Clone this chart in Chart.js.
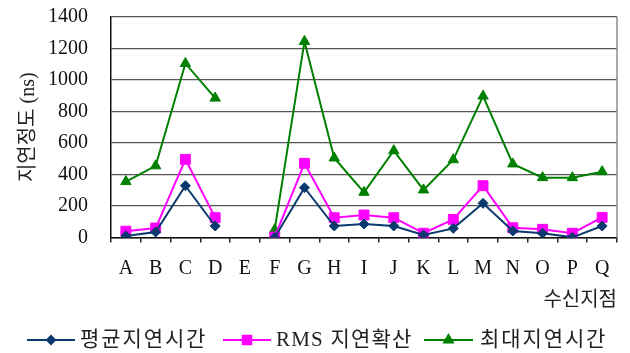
<!DOCTYPE html>
<html>
<head>
<meta charset="utf-8">
<script src="https://cdn.jsdelivr.net/npm/chart.js@4/dist/chart.umd.min.js"></script>
<style>
  html, body { margin: 0; padding: 0; background: #fff; }
  #wrap { width: 630px; height: 353px; position: relative; }
</style>
</head>
<body>
<div id="wrap"><canvas id="c" width="630" height="353"></canvas></div>
<script>
// 수신지점별 지연 특성 (ns)
const sites = ['A','B','C','D','E','F','G','H','I','J','K','L','M','N','O','P','Q'];
const meanDelay = [10, 35, 329, 73, null, 0, 316, 73, 86, 73, 16, 58, 217, 41, 27, 1, 73];
const rmsSpread = [40, 60, 496, 126, null, 3, 471, 126, 143, 126, 27, 115, 329, 62, 52, 27, 128];
const maxDelay  = [355, 455, 1105, 885, null, 50, 1245, 505, 287, 551, 302, 494, 898, 467, 380, 380, 418];
const yTicks = [0, 200, 400, 600, 800, 1000, 1200, 1400];

const FONT = "'Liberation Serif', 'Noto Sans CJK KR', serif";

const series = [
  { label: '평균지연시간', data: meanDelay, color: '#0b3a6e', style: 'rectRot', r: 5 },
  { label: 'RMS 지연확산', data: rmsSpread, color: '#ff00ff', style: 'rect', r: 7 },
  { label: '최대지연시간', data: maxDelay, color: '#008000', style: 'triangle', r: 6 }
];

// 오른쪽 테두리와 하단 범례
const framePlugin = {
  id: 'frame',
  beforeDatasetsDraw(chart) {
    const { ctx, chartArea: a } = chart;
    ctx.save();
    ctx.strokeStyle = '#8c8c8c';
    ctx.lineWidth = 1.5;
    ctx.beginPath();
    ctx.moveTo(a.right, a.top);
    ctx.lineTo(a.right, a.bottom);
    ctx.stroke();
    ctx.restore();
  },
  afterDraw(chart) {
    const { ctx } = chart;
    const y = 340;
    const items = [
      { x0: 27, x1: 75, tx: 80 },
      { x0: 223, x1: 271, tx: 276 },
      { x0: 424, x1: 473, tx: 480 }
    ];
    ctx.save();
    series.forEach((s, i) => {
      const it = items[i];
      ctx.strokeStyle = s.color;
      ctx.lineWidth = 2;
      ctx.beginPath();
      ctx.moveTo(it.x0, y);
      ctx.lineTo(it.x1, y);
      ctx.stroke();
      Chart.helpers.drawPoint(ctx, {
        pointStyle: s.style, radius: s.r - 1, rotation: 0, borderWidth: 1
      }, (it.x0 + it.x1) / 2, y);
      ctx.fillStyle = s.color;
      ctx.fill();
      ctx.fillStyle = '#222';
      ctx.font = '21px ' + FONT;
      ctx.letterSpacing = i === 1 ? '1.2px' : '1.9px';
      ctx.textAlign = 'left';
      ctx.textBaseline = 'middle';
      ctx.fillText(s.label, it.tx, y);
    });
    ctx.restore();
  }
};

new Chart(document.getElementById('c'), {
  type: 'line',
  data: {
    labels: sites,
    datasets: series.map(s => ({
      label: s.label,
      data: s.data,
      borderColor: s.color,
      backgroundColor: s.color,
      borderWidth: 2,
      pointStyle: s.style,
      pointRadius: s.r,
      pointBorderWidth: 1,
      pointHoverRadius: s.r,
      tension: 0,
      spanGaps: false
    }))
  },
  options: {
    responsive: false,
    animation: false,
    events: [],
    layout: { padding: { left: 0, right: 13, top: 17, bottom: 40 } },
    plugins: {
      legend: { display: false },
      tooltip: { enabled: false }
    },
    scales: {
      x: {
        type: 'category',
        offset: true,
        afterFit(scale) { scale.height = 75.5; },
        grid: {
          offset: true,
          drawOnChartArea: false,
          drawTicks: true,
          tickLength: 5,
          color: '#222',
          lineWidth: 1.5
        },
        border: { display: true, color: '#111', width: 1.5 },
        ticks: {
          color: '#111',
          font: { family: FONT, size: 20 },
          padding: 14,
          maxRotation: 0,
          autoSkip: false
        },
        title: {
          display: true,
          text: '수신지점',
          align: 'end',
          color: '#222',
          font: { family: FONT, size: 20 },
          padding: { top: 2, bottom: 0 }
        }
      },
      y: {
        min: 0,
        max: 1400,
        afterFit(scale) {
          scale.width = 111;
          scale.paddingTop = 0;
          scale.paddingBottom = 0;
        },
        afterBuildTicks(scale) { scale.ticks = yTicks.map(v => ({ value: v })); },
        grid: {
          drawTicks: false,
          color: '#555',
          lineWidth: 1.3
        },
        border: { display: true, color: '#111', width: 1.5 },
        ticks: {
          color: '#111',
          font: { family: FONT, size: 20 },
          padding: 23,
          callback: v => String(v)
        },
        title: {
          display: true,
          text: '지연정도 (ns)',
          color: '#222',
          font: { family: FONT, size: 20 },
          padding: { top: 17, bottom: 0 }
        }
      }
    }
  },
  plugins: [framePlugin]
});
</script>
</body>
</html>
